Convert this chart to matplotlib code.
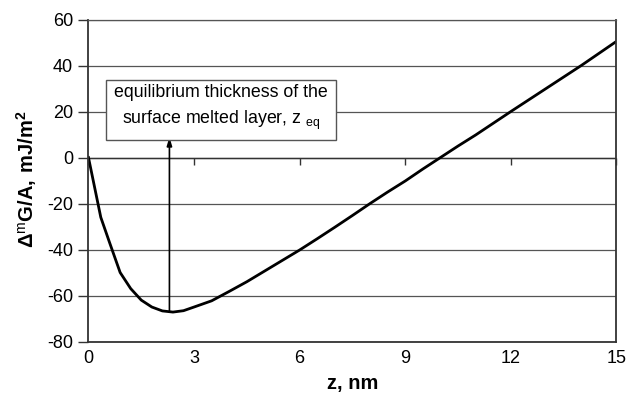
import matplotlib
matplotlib.use('Agg')
import matplotlib.pyplot as plt

plt.rcParams['font.family'] = ['Liberation Sans', 'DejaVu Sans']
plt.rcParams['mathtext.fontset'] = 'custom'
plt.rcParams['mathtext.rm'] = 'Liberation Sans'
plt.rcParams['mathtext.bf'] = 'Liberation Sans:bold'
plt.rcParams['axes.unicode_minus'] = False

# data
z_nm = [0, 0.35, 0.6, 0.9, 1.2, 1.5, 1.8, 2.1, 2.4, 2.7, 3.0, 3.5, 4.0, 4.5,
        5.0, 5.5, 6.0, 6.5, 7.0, 7.5, 8.0, 8.5, 9.0, 9.5, 10.0, 10.5, 11.0,
        12.0, 13.0, 14.0, 15.0]
dG = [0, -26, -37, -50, -57, -62, -65, -66.7, -67.2, -66.6, -65, -62.3,
      -58.2, -54, -49.4, -44.8, -40.2, -35.3, -30.3, -25.2, -20, -15, -10.2,
      -5, 0, 5, 9.8, 20, 30, 40, 50.5]
z_eq = 2.3
x_ticks = [0, 3, 6, 9, 12, 15]
y_ticks = [-80, -60, -40, -20, 0, 20, 40, 60]

fig = plt.figure(figsize=(6.27, 3.94), dpi=100)
ax = fig.add_axes([0.1411, 0.1332, 0.8421, 0.8173])

ax.set_xlim(0, 15)
ax.set_ylim(-80, 60)
ax.set_xticks(x_ticks)
ax.set_yticks(y_ticks)
ax.tick_params(axis='x', length=0, pad=6, labelsize=13)
ax.tick_params(axis='y', direction='out', length=7, width=1, color='#333333',
               pad=4, labelsize=13)

ax.grid(axis='y', color='#555555', lw=0.9)
ax.set_axisbelow(True)
for s in ['left', 'bottom', 'right']:
    ax.spines[s].set_color('#333333')
    ax.spines[s].set_linewidth(1.3)
ax.spines['top'].set_color('#555555')
ax.spines['top'].set_linewidth(0.9)

# horizontal axis crossing at zero, ticks hanging down
ax.axhline(0, color='#333333', lw=1.0, zorder=1)
sec = ax.secondary_xaxis((0 - (-80)) / 140)
sec.set_xticks(x_ticks)
sec.tick_params(direction='in', length=5, width=1, color='#333333',
                labeltop=False, labelbottom=False)
for s in sec.spines.values():
    s.set_visible(False)

ax.plot(z_nm, dG, color='black', lw=2)

ax.annotate('', xy=(z_eq, 8.9), xytext=(z_eq, min(dG)),
            arrowprops=dict(arrowstyle='-|>,head_length=0.5,head_width=0.15',
                            color='black', lw=1.2, shrinkA=0, shrinkB=0))
ax.text(3.76, 21.4, 'equilibrium thickness of the\nsurface melted layer, z $_{\\rm eq}$',
        ha='center', va='center', fontsize=12.8, linespacing=1.5,
        bbox=dict(boxstyle='square,pad=0.45', fc='white', ec='#555555', lw=1))

ax.set_xlabel('z, nm', fontsize=14.5, fontweight='bold', va='center')
ax.xaxis.set_label_coords(0.5, -0.129)
ax.set_ylabel('$\\mathbf{\\Delta}^{\\rm m}\\mathbf{G/A,\\,mJ/m^{2}}$',
              fontsize=14.5, va='center')
ax.yaxis.set_label_coords(-0.117, 0.505)

fig.savefig('out.png', dpi=100)
